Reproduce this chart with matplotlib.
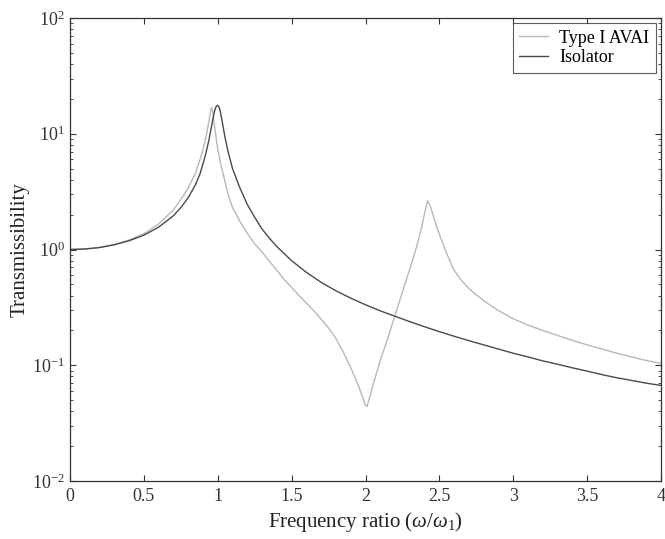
import matplotlib
matplotlib.use("Agg")
import matplotlib.pyplot as plt

plt.rcParams['font.family'] = ['Liberation Serif', 'DejaVu Serif']
plt.rcParams['mathtext.fontset'] = 'custom'
plt.rcParams['mathtext.rm'] = 'Liberation Serif'
plt.rcParams['mathtext.it'] = 'Liberation Serif:italic'

# Type I AVAI
avai_r = [0.0, 0.1, 0.2, 0.3, 0.4, 0.5, 0.6, 0.7, 0.75, 0.8, 0.85, 0.88, 0.9, 0.92, 0.94,
          0.95, 0.958, 0.965, 0.975, 0.99, 1.0, 1.02, 1.05, 1.07, 1.1, 1.15, 1.2, 1.25,
          1.3, 1.35, 1.4, 1.45, 1.5, 1.55, 1.6, 1.65, 1.7, 1.75, 1.8, 1.85, 1.9, 1.95,
          1.98, 2.0, 2.01, 2.03, 2.05, 2.1, 2.15, 2.2, 2.25, 2.3, 2.35, 2.38, 2.4, 2.42,
          2.44, 2.47, 2.5, 2.55, 2.6, 2.65, 2.7, 2.75, 2.8, 2.85, 2.9, 3.0, 3.1, 3.2, 3.3,
          3.4, 3.5, 3.6, 3.7, 3.8, 3.9, 4.0]
avai_t = [1.0, 1.01, 1.04, 1.10, 1.21, 1.37, 1.66, 2.2, 2.7, 3.4, 4.6, 6.0, 7.3, 9.3, 12.7,
          15.3, 16.8, 15.8, 12.5, 9.0, 7.4, 5.5, 3.8, 3.0, 2.3, 1.75, 1.38, 1.12,
          0.95, 0.79, 0.66, 0.55, 0.47, 0.40, 0.345, 0.295, 0.25, 0.21, 0.17, 0.13, 0.095,
          0.068, 0.053, 0.045, 0.044, 0.054, 0.067, 0.11, 0.17, 0.27, 0.43, 0.68, 1.1, 1.55,
          2.05, 2.65, 2.35, 1.75, 1.35, 0.92, 0.66, 0.54, 0.46, 0.405, 0.362, 0.326, 0.297,
          0.252, 0.222, 0.2, 0.181, 0.164, 0.15, 0.138, 0.127, 0.118, 0.11, 0.104]

# Isolator
iso_r = [0.0, 0.1, 0.2, 0.3, 0.4, 0.5, 0.6, 0.7, 0.75, 0.8, 0.85, 0.88, 0.9, 0.92, 0.94,
         0.96, 0.97, 0.98, 0.99, 1.0, 1.01, 1.02, 1.03, 1.04, 1.05, 1.07, 1.1, 1.15,
         1.2, 1.25, 1.3, 1.35, 1.4, 1.45, 1.5, 1.6, 1.7, 1.8, 1.9, 2.0, 2.1, 2.2, 2.3,
         2.4, 2.5, 2.6, 2.7, 2.8, 2.9, 3.0, 3.1, 3.2, 3.3, 3.4, 3.5, 3.6, 3.7, 3.8, 3.9, 4.0]
iso_t = [1.0, 1.01, 1.04, 1.10, 1.19, 1.33, 1.56, 1.96, 2.3, 2.8, 3.65, 4.5, 5.5, 6.8, 8.8,
         12.0, 14.0, 16.0, 17.3, 17.6, 16.9, 15.0, 12.8, 10.8, 9.2, 7.0, 5.0, 3.4,
         2.45, 1.9, 1.5, 1.25, 1.06, 0.92, 0.8, 0.635, 0.52, 0.44, 0.38, 0.333, 0.295, 0.265,
         0.238, 0.215, 0.195, 0.178, 0.163, 0.15, 0.138, 0.127, 0.118, 0.109, 0.102, 0.095,
         0.089, 0.083, 0.078, 0.074, 0.07, 0.067]

fig = plt.figure(figsize=(6.65, 5.39), dpi=100)
ax = fig.add_axes([70/665, 1-481/539, (661-70)/665, (481-18)/539])

ax.plot(avai_r, avai_t, color='#b8b8b8', lw=1.0, label='Type I AVAI')
ax.plot(iso_r, iso_t, color='#4a4a4a', lw=1.0, label='Isolator')

ax.set_yscale('log')
ax.set_xlim(0, 4)
ax.set_ylim(1e-2, 1e2)
ax.set_xticks([0, 0.5, 1, 1.5, 2, 2.5, 3, 3.5, 4])
ax.set_xticklabels(['0', '0.5', '1', '1.5', '2', '2.5', '3', '3.5', '4'])
ax.tick_params(which='both', direction='in', top=True, right=True, labelsize=13,
               colors='#333333')
ax.tick_params(which='major', length=4)
ax.tick_params(which='minor', length=2)
ax.tick_params(axis='x', pad=5)
for s in ax.spines.values():
    s.set_color('#333333')
    s.set_linewidth(0.9)

ax.set_xlabel(r'Frequency ratio ($\omega/\omega_1$)', fontsize=15, color='#222222', labelpad=4)
ax.set_ylabel('Transmissibility', fontsize=15, color='#222222', labelpad=2)

leg = ax.legend(loc='upper right', fontsize=13, frameon=True, fancybox=False,
                borderaxespad=0.3, handlelength=1.6, handletextpad=0.6,
                labelspacing=0.15, borderpad=0.35)
leg.get_frame().set_edgecolor('#333333')
leg.get_frame().set_linewidth(0.8)

fig.savefig('out.png', dpi=100)
